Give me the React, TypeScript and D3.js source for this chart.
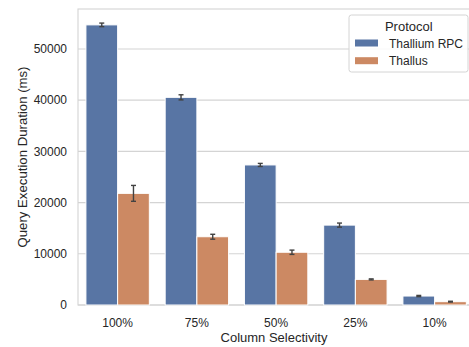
import React from "react";
import * as d3 from "d3";

const categories = ["100%", "75%", "50%", "25%", "10%"];
const seriesNames = ["Thallium RPC", "Thallus"];
const rpcValues = [54700, 40550, 27350, 15600, 1750];
const rpcErrors = [350, 500, 300, 400, 120];
const thallusValues = [21800, 13330, 10300, 5000, 650];
const thallusErrors = [1550, 480, 420, 100, 80];
const yTicks = [0, 10000, 20000, 30000, 40000, 50000];
const colors = ["#5875a4", "#cc8963"];

const W = 469;
const H = 347;
const left = 78;
const right = 474.25;
const top = 9;
const bottom = 305;
const font = "'Liberation Sans', Arial, sans-serif";
const textColor = "#262626";

export default function App() {
  const x = d3.scaleBand<string>().domain(categories).range([left, right]).paddingInner(0).paddingOuter(0);
  const inner = d3.scaleBand<string>().domain(seriesNames).range([0, x.bandwidth() * 0.8]);
  const y = d3.scaleLinear().domain([0, 57800]).range([bottom, top]);
  const series = [
    { name: seriesNames[0], values: rpcValues, errors: rpcErrors, color: colors[0] },
    { name: seriesNames[1], values: thallusValues, errors: thallusErrors, color: colors[1] },
  ];
  const groupOffset = x.bandwidth() * 0.1;

  return (
    <svg width={W} height={H} style={{ position: "absolute", left: 0, top: 0, display: "block" }} fontFamily={font}>
      <rect x={0} y={0} width={W} height={H} fill="#fff" />
      {/* grid */}
      {yTicks.map((t) => (
        <line key={t} x1={left} x2={right} y1={y(t)} y2={y(t)} stroke="#d4d4d4" strokeWidth={1.1} />
      ))}
      {/* spines */}
      <rect x={left} y={top} width={right - left} height={bottom - top} fill="none" stroke="#d4d4d4" strokeWidth={1.1} />
      {/* bars */}
      {series.map((s) =>
        categories.map((c, i) => {
          const bx = (x(c) as number) + groupOffset + (inner(s.name) as number);
          const bw = inner.bandwidth();
          return (
            <rect key={s.name + c} x={bx} y={y(s.values[i])} width={bw} height={y(0) - y(s.values[i])} fill={s.color} stroke="#fff" strokeWidth={1} />
          );
        })
      )}
      {/* error bars */}
      {series.map((s) =>
        categories.map((c, i) => {
          const cx = (x(c) as number) + groupOffset + (inner(s.name) as number) + inner.bandwidth() / 2;
          const y1 = y(s.values[i] + s.errors[i]);
          const y2 = y(s.values[i] - s.errors[i]);
          return (
            <g key={"e" + s.name + c} stroke="#424242" strokeWidth={1.4}>
              <line x1={cx} x2={cx} y1={y1} y2={y2} />
              <line x1={cx - 2.5} x2={cx + 2.5} y1={y1} y2={y1} />
              <line x1={cx - 2.5} x2={cx + 2.5} y1={y2} y2={y2} />
            </g>
          );
        })
      )}
      {/* y ticks */}
      {yTicks.map((t) => (
        <text key={"yt" + t} x={67} y={y(t)} dy="0.35em" textAnchor="end" fontSize={12} fill={textColor}>
          {t}
        </text>
      ))}
      {/* x ticks */}
      {categories.map((c) => (
        <text key={"xt" + c} x={(x(c) as number) + x.bandwidth() / 2} y={326.7} textAnchor="middle" fontSize={12} fill={textColor}>
          {c}
        </text>
      ))}
      <text x={274} y={341.5} textAnchor="middle" fontSize={13} fill={textColor}>
        Column Selectivity
      </text>
      <text transform={`translate(26.7, ${(top + bottom) / 2}) rotate(-90)`} textAnchor="middle" fontSize={13.2} fill={textColor}>
        Query Execution Duration (ms)
      </text>
      {/* legend */}
      <g>
        <rect x={349} y={15} width={119} height={57} rx={2.5} fill="#fff" fillOpacity={0.85} stroke="#d4d4d4" strokeWidth={1} />
        <text x={408.8} y={30.5} textAnchor="middle" fontSize={13} fill={textColor}>
          Protocol
        </text>
        {series.map((s, i) => (
          <g key={"lg" + s.name}>
            <rect x={355} y={39.5 + i * 17.7} width={23} height={7} fill={s.color} />
            <text x={389} y={47.5 + i * 17.7} fontSize={12} fill={textColor}>
              {s.name}
            </text>
          </g>
        ))}
      </g>
    </svg>
  );
}
